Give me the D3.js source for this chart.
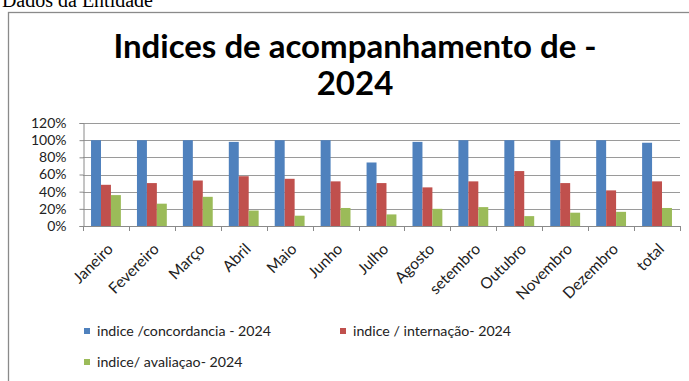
<!DOCTYPE html>
<html>
<head>
<meta charset="utf-8">
<script src="https://cdn.jsdelivr.net/npm/d3@7"></script>
<style>
  html, body { margin: 0; padding: 0; background: #fff; }
  svg { display: block; }
</style>
</head>
<body>
<svg id="chart" width="689" height="381"></svg>
<script>
const categories = ["Janeiro","Fevereiro","Março","Abril","Maio","Junho","Julho","Agosto","setembro","Outubro","Novembro","Dezembro","total"];
const seriesNames = ["indice /concordancia - 2024","indice / internação- 2024","indice/ avaliaçao- 2024"];
const concordancia = [1.00, 1.00, 1.00, 0.98, 1.00, 1.00, 0.74, 0.98, 1.00, 1.00, 1.00, 1.00, 0.97];
const internacao   = [0.48, 0.50, 0.53, 0.58, 0.55, 0.52, 0.50, 0.45, 0.52, 0.64, 0.50, 0.415, 0.52];
const avaliacao    = [0.36, 0.26, 0.34, 0.18, 0.12, 0.21, 0.135, 0.20, 0.22, 0.115, 0.155, 0.165, 0.21];
const yTicks = [0, 0.2, 0.4, 0.6, 0.8, 1.0, 1.2];
const colors = ["#4F81BD", "#C0504D", "#9BBB59"];
const seriesValues = [concordancia, internacao, avaliacao];

const svg = d3.select("#chart");
const FONT = "Lato, 'Open Sans', sans-serif";

// header text
svg.append("text")
  .attr("x", 153).attr("y", 7)
  .attr("text-anchor", "end")
  .attr("font-family", "'Liberation Serif', 'Times New Roman', serif")
  .attr("font-size", 20)
  .attr("fill", "#000")
  .text("Dados da Entidade");

// chart frame
svg.append("rect")
  .attr("x", 8.5).attr("y", 12.5)
  .attr("width", 720).attr("height", 420)
  .attr("fill", "#fff")
  .attr("stroke", "#8a8a8a").attr("stroke-width", 1.3);

// title
const title = svg.append("text")
  .attr("text-anchor", "middle")
  .attr("font-family", FONT)
  .attr("font-weight", "bold")
  .attr("font-size", 33)
  .attr("fill", "#000");
title.append("tspan").attr("x", 355).attr("y", 58).text("Indices de acompanhamento de -");
title.append("tspan").attr("x", 355).attr("y", 95).text("2024");

// scales
const x0 = d3.scaleBand().domain(categories).range([83, 680]).paddingInner(0.35).paddingOuter(0.175);
const x1 = d3.scaleBand().domain(d3.range(seriesNames.length)).range([0, x0.bandwidth()]);
const y = d3.scaleLinear().domain([0, 1.2]).range([226, 123]);

// gridlines
svg.append("g").selectAll("line").data(yTicks.filter(d => d > 0)).join("line")
  .attr("x1", 83).attr("x2", 680)
  .attr("y1", d => Math.round(y(d)) + 0.5).attr("y2", d => Math.round(y(d)) + 0.5)
  .attr("stroke", "#9a9a9a").attr("stroke-width", 1);

// y axis
const yAxis = svg.append("g")
  .attr("transform", "translate(83.5,0)")
  .call(d3.axisLeft(y).tickValues(yTicks).tickFormat(d3.format(".0%")).tickSize(4).tickPadding(13));
yAxis.select(".domain").attr("stroke", "#8a8a8a");
yAxis.selectAll(".tick line").attr("stroke", "#8a8a8a");
yAxis.selectAll(".tick text").attr("font-family", FONT).attr("font-size", 14).attr("fill", "#222");

// bars
const groups = svg.append("g").selectAll("g").data(categories).join("g")
  .attr("transform", d => `translate(${x0(d)},0)`);
groups.selectAll("rect")
  .data((c, i) => seriesValues.map((vals, s) => ({ s, v: vals[i] })))
  .join("rect")
  .attr("x", d => x1(d.s))
  .attr("width", x1.bandwidth())
  .attr("y", d => y(d.v))
  .attr("height", d => y(0) - y(d.v))
  .attr("fill", d => colors[d.s]);

// x axis
const step = x0.step();
svg.append("line")
  .attr("x1", 83).attr("x2", 680)
  .attr("y1", 226.5).attr("y2", 226.5)
  .attr("stroke", "#8a8a8a");
svg.append("g").selectAll("line").data(d3.range(categories.length + 1)).join("line")
  .attr("x1", i => Math.round(83 + i * step) + 0.5).attr("x2", i => Math.round(83 + i * step) + 0.5)
  .attr("y1", 226).attr("y2", 231)
  .attr("stroke", "#8a8a8a");

svg.append("g").selectAll("text").data(categories).join("text")
  .attr("transform", d => `translate(${x0(d) + x0.bandwidth() / 2 + 8},250) rotate(-45)`)
  .attr("text-anchor", "end")
  .attr("font-family", FONT)
  .attr("font-size", 15.5)
  .attr("fill", "#222")
  .text(d => d);

// legend
const legendPos = [[84, 328], [340, 328], [84, 359]];
const legend = svg.append("g").selectAll("g").data(seriesNames).join("g")
  .attr("transform", (d, i) => `translate(${legendPos[i][0]},${legendPos[i][1]})`);
legend.append("rect").attr("width", 6).attr("height", 6).attr("fill", (d, i) => colors[i]);
legend.append("text")
  .attr("x", 13).attr("y", 8)
  .attr("font-family", FONT).attr("font-size", 14.2).attr("fill", "#222")
  .text(d => d);
</script>
</body>
</html>
